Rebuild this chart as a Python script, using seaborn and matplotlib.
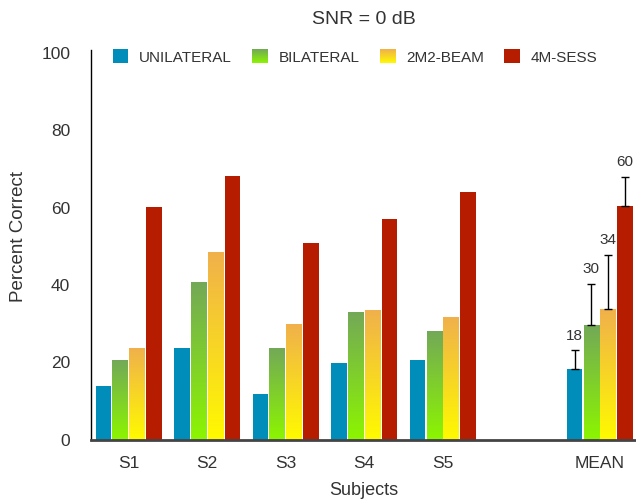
import numpy as np
import pandas as pd
import seaborn as sns
import matplotlib
matplotlib.use("Agg")
import matplotlib.pyplot as plt
from matplotlib.legend_handler import HandlerBase
from matplotlib.image import BboxImage
from matplotlib.transforms import Bbox, TransformedBbox
from matplotlib.colors import LinearSegmentedColormap
from matplotlib.patches import Patch

# ---------------- data ----------------
subjects = ["S1", "S2", "S3", "S4", "S5", "MEAN"]
conditions = ["UNILATERAL", "BILATERAL", "2M2-BEAM", "4M-SESS"]
unilateral = [13.8, 23.7, 11.7, 19.8, 20.7, 18.2]
bilateral = [20.5, 40.8, 23.7, 33.1, 28.1, 29.6]
beam = [23.7, 48.4, 30.0, 33.4, 31.8, 33.9]
sess = [60.1, 68.1, 50.9, 57.0, 64.0, 60.4]
mean_err = [4.9, 10.7, 13.8, 7.6]
mean_labels = ["18", "30", "34", "60"]
order = ["S1", "S2", "S3", "S4", "S5", " ", "MEAN"]
yticks = [0, 20, 40, 60, 80, 100]

title = "SNR = 0 dB"
xlabel = "Subjects"
ylabel = "Percent Correct"

# ---------------- styling ----------------
sns.set_style("white")
plt.rcParams["font.family"] = ["Liberation Sans", "DejaVu Sans"]
TXT = "#333333"

colors = {"UNILATERAL": "#008DB9", "BILATERAL": "#7DC63A",
          "2M2-BEAM": "#F5CC30", "4M-SESS": "#B51C00"}
grads = {"BILATERAL": ("#8CF500", "#73A858"),   # (bottom, top)
         "2M2-BEAM": ("#FFFA00", "#F0B04C")}
cmaps = {k: LinearSegmentedColormap.from_list(k, [v[0], v[1]]) for k, v in grads.items()}

rows = []
for cond, vals in zip(conditions, [unilateral, bilateral, beam, sess]):
    for s, v in zip(subjects, vals):
        rows.append({"Subject": s, "Condition": cond, "Value": v})
df = pd.DataFrame(rows)

fig = plt.figure(figsize=(6.36, 5.04), dpi=100)
ax = fig.add_axes([91 / 636, (504 - 439.5) / 504, (636 - 91) / 636, (439.5 - 50) / 504])

sns.barplot(data=df, x="Subject", y="Value", hue="Condition", order=order,
            hue_order=conditions, palette=colors, saturation=1, width=0.86,
            gap=0.07, errorbar=None, linewidth=0, ax=ax, legend=False)

grad_arr = np.linspace(0, 1, 256).reshape(-1, 1)
bar_info = {}
for cond, cont in zip(conditions, ax.containers):
    for p in cont.patches:
        x0, y0 = p.get_x(), p.get_y()
        w, h = p.get_width(), p.get_height()
        if np.isnan(h) or h == 0:
            continue
        bar_info.setdefault(cond, []).append((x0 + w / 2, h))
        if cond in cmaps:
            im = ax.imshow(grad_arr, cmap=cmaps[cond], origin="lower",
                           extent=[x0, x0 + w, y0, y0 + h], aspect="auto",
                           zorder=p.get_zorder() + 0.1, interpolation="bilinear")
            im.set_clip_path(p)

# error bars + labels on MEAN group
for cond, err, lab in zip(conditions, mean_err, mean_labels):
    xc, h = max(bar_info[cond], key=lambda t: t[0])
    ax.errorbar([xc], [h], yerr=[[0], [err]], fmt="none", ecolor="black",
                elinewidth=1, capsize=3, capthick=1, zorder=5)
    ax.text(xc, h + err + 2.0, lab, ha="center", va="bottom",
            fontsize=11, color=TXT)

ax.set_xlim(-0.48, 6.46)
ax.set_ylim(0, 100.8)
ax.set_yticks(yticks)
ax.tick_params(axis="both", length=0, labelsize=12.5, colors=TXT)
ax.tick_params(axis="y", pad=15)
ax.tick_params(axis="x", pad=12)
sns.despine(ax=ax, top=True, right=True)
ax.spines["left"].set_color("black")
ax.spines["left"].set_linewidth(1.0)
ax.spines["bottom"].set_color("#444444")
ax.spines["bottom"].set_linewidth(2.0)
ax.spines["bottom"].set_zorder(6)

ax.set_xlabel(xlabel, fontsize=13, color=TXT, labelpad=8)
ax.set_ylabel(ylabel, fontsize=13.5, color=TXT)
ax.yaxis.set_label_coords(-0.117, 0.52)
ax.set_title(title, fontsize=14, color=TXT, pad=19)


class GradHandler(HandlerBase):
    def __init__(self, cmap):
        super().__init__()
        self.cmap = cmap

    def legend_artist(self, legend, orig_handle, fontsize, handlebox):
        x0, y0 = handlebox.xdescent, handlebox.ydescent
        w, h = handlebox.width, handlebox.height
        bb = TransformedBbox(Bbox.from_bounds(-x0, -y0, w, h), handlebox.get_transform())
        img = BboxImage(bb, cmap=self.cmap, interpolation="bilinear", origin="lower")
        img.set_data(grad_arr)
        handlebox.add_artist(img)
        return img


handles = [Patch(facecolor=colors[c], edgecolor="none") for c in conditions]
hmap = {handles[i]: GradHandler(cmaps[c]) for i, c in enumerate(conditions) if c in cmaps}
leg = ax.legend(handles, conditions, handler_map=hmap, ncol=4, frameon=False,
                loc="center", bbox_to_anchor=((355 - 91) / 545, (439.5 - 57) / 389.5),
                fontsize=11, handlelength=1.0, handleheight=1.0,
                handletextpad=0.7, columnspacing=1.35, borderaxespad=0)
for t in leg.get_texts():
    t.set_color(TXT)

fig.savefig("out.png", dpi=100)
